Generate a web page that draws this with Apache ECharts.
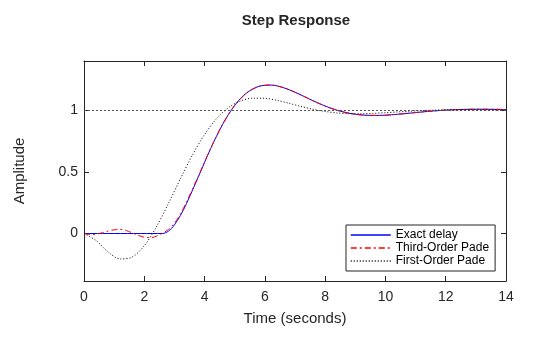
<!DOCTYPE html>
<html>
<head>
<meta charset="utf-8">
<title>Step Response</title>
<script src="https://cdn.jsdelivr.net/npm/echarts@6/dist/echarts.min.js"></script>
<style>
  html, body { margin: 0; padding: 0; background: #ffffff; }
  #chart { width: 560px; height: 337px; }
</style>
</head>
<body>
<div id="chart"></div>
<script>
// Step response of 1/(s^2 + 0.9 s + 1) with a 2.6 s input delay,
// compared with its third- and first-order Pade approximations.

// Exact delay
const exactTime = [0, 2.6, 2.8, 3.0, 3.2, 3.4, 3.8, 4.2, 4.6, 5.0, 5.4, 5.8, 6.2, 6.6, 7.0, 7.4,
  7.8, 8.2, 8.6, 9.0, 9.4, 9.8, 10.2, 10.6, 11.0, 11.4, 11.8, 12.2, 12.6, 13.0, 13.4, 13.8, 14.0];
const exactAmp = [0, 0, 0.0188, 0.0703, 0.1472, 0.2426, 0.4632, 0.6883, 0.8867, 1.0401, 1.1418,
  1.1940, 1.2047, 1.1850, 1.1467, 1.1006, 1.0550, 1.0160, 0.9866, 0.9679, 0.9591, 0.9584,
  0.9634, 0.9718, 0.9813, 0.9905, 0.9981, 1.0037, 1.0071, 1.0086, 1.0084, 1.0072, 1.0064];

// Third-order Pade
const pade3Time = [0, 0.2, 0.4, 0.6, 0.8, 1.0, 1.2, 1.4, 1.6, 1.8, 2.0, 2.2, 2.4, 2.6, 2.8, 3.0,
  3.2, 3.4, 3.8, 4.2, 4.6, 5.0, 5.4, 5.8, 6.2, 6.6, 7.0, 7.4, 7.8, 8.2, 8.6, 9.0, 9.4, 9.8,
  10.2, 10.6, 11.0, 11.4, 11.8, 12.2, 12.6, 13.0, 13.4, 13.8, 14.0];
const pade3Amp = [0, -0.008, -0.006, 0.006, 0.020, 0.030, 0.033, 0.024, 0.005, -0.015, -0.030,
  -0.034, -0.022, 0.002, 0.033, 0.084, 0.158, 0.255, 0.470, 0.690, 0.8867, 1.0401, 1.1418,
  1.1940, 1.2047, 1.1850, 1.1467, 1.1006, 1.0550, 1.0160, 0.9866, 0.9679, 0.9591, 0.9584,
  0.9634, 0.9718, 0.9813, 0.9905, 0.9981, 1.0037, 1.0071, 1.0086, 1.0084, 1.0072, 1.0064];

// First-order Pade
const pade1Time = [0, 0.4, 0.8, 1.2, 1.6, 2.0, 2.4, 2.8, 3.2, 3.6, 4.0, 4.4, 4.8, 5.2, 5.6, 6.0,
  6.4, 6.8, 7.2, 7.6, 8.0, 8.4, 8.8, 9.2, 9.6, 10.0, 10.4, 10.8, 11.2, 11.6, 12.0, 12.4, 12.8,
  13.2, 13.6, 14.0];
const pade1Amp = [0, -0.0565, -0.1505, -0.2066, -0.1910, -0.0996, 0.0531, 0.2435, 0.4458,
  0.6379, 0.8033, 0.9325, 1.0227, 1.0760, 1.0983, 1.0972, 1.0809, 1.0569, 1.0312, 1.0081,
  0.9901, 0.9784, 0.9726, 0.9719, 0.9749, 0.9802, 0.9864, 0.9924, 0.9975, 1.0014, 1.0039,
  1.0051, 1.0052, 1.0046, 1.0036, 1.0023];

const seriesNames = ['Exact delay', 'Third-Order Pade', 'First-Order Pade'];
const amplitudeTicks = [0, 0.5, 1];
const finalValue = 1;

function pairs(xs, ys) {
  return xs.map((x, i) => [x, ys[i]]);
}

const ink = '#262626';
const font = '"Liberation Sans", Arial, sans-serif';

const xBase = {
  type: 'value', min: 0, max: 14, interval: 2,
  axisLine: { show: true, onZero: false, lineStyle: { color: ink, width: 1 } },
  axisTick: { show: true, inside: true, length: 5, lineStyle: { color: ink } },
  splitLine: { show: false }
};
const yBase = {
  type: 'value', min: -0.3854, max: 1.4,
  axisLine: { show: true, onZero: false, lineStyle: { color: ink, width: 1 } },
  axisTick: { show: true, inside: true, length: 5, customValues: amplitudeTicks, lineStyle: { color: ink } },
  splitLine: { show: false }
};

function curve(name, xs, ys, color, dash, z) {
  return {
    name: name,
    type: 'line',
    xAxisIndex: 0, yAxisIndex: 0,
    data: pairs(xs, ys),
    showSymbol: false,
    symbol: 'none',
    smooth: 0.3,
    lineStyle: { color: color, width: 1, type: dash },
    itemStyle: { color: color },
    z: z
  };
}

const chart = echarts.init(document.getElementById('chart'), null, { renderer: 'canvas' });

const exactSeries = curve(seriesNames[0], exactTime, exactAmp, '#0000ff', 'solid', 2);
// dotted steady-state reference line
exactSeries.markLine = {
  silent: true,
  symbol: 'none',
  label: { show: false },
  lineStyle: { color: '#555555', width: 1, type: [2, 2] },
  data: [{ yAxis: finalValue }]
};

chart.setOption({
  animation: false,
  backgroundColor: '#ffffff',
  textStyle: { fontFamily: font },
  title: {
    text: 'Step Response',
    left: 291,
    textAlign: 'center',
    top: 8,
    textStyle: { fontSize: 15, fontWeight: 'bold', color: ink, fontFamily: font }
  },
  grid: { left: 84, right: 54, top: 61, bottom: 56, containLabel: false },
  legend: {
    data: seriesNames,
    orient: 'vertical',
    left: 346,
    top: 225,
    itemWidth: 40,
    itemHeight: 13,
    itemGap: 1,
    padding: [4, 6, 4, 4],
    backgroundColor: '#ffffff',
    borderColor: ink,
    borderWidth: 1,
    borderRadius: 0,
    itemStyle: { opacity: 0 },
    lineStyle: { width: 1.5, opacity: 1 },
    textStyle: { fontSize: 12, color: '#000000', fontFamily: font }
  },
  xAxis: [
    Object.assign({}, xBase, {
      position: 'bottom',
      name: 'Time (seconds)',
      nameLocation: 'middle',
      nameGap: 30,
      nameTextStyle: { fontSize: 15, color: ink, fontFamily: font },
      axisLabel: { show: true, margin: 9, fontSize: 14, color: ink, fontFamily: font }
    }),
    Object.assign({}, xBase, { position: 'top', axisLabel: { show: false } })
  ],
  yAxis: [
    Object.assign({}, yBase, {
      position: 'left',
      name: 'Amplitude',
      nameLocation: 'middle',
      nameGap: 57,
      nameTextStyle: { fontSize: 15, color: ink, fontFamily: font },
      axisLabel: { show: true, margin: 6, fontSize: 14, color: ink, fontFamily: font, customValues: amplitudeTicks }
    }),
    Object.assign({}, yBase, { position: 'right', axisLabel: { show: false } })
  ],
  series: [
    exactSeries,
    curve(seriesNames[1], pade3Time, pade3Amp, '#ff0000', [6, 3, 2, 3], 3),
    curve(seriesNames[2], pade1Time, pade1Amp, '#000000', [1, 2], 4)
  ]
});
</script>
</body>
</html>
